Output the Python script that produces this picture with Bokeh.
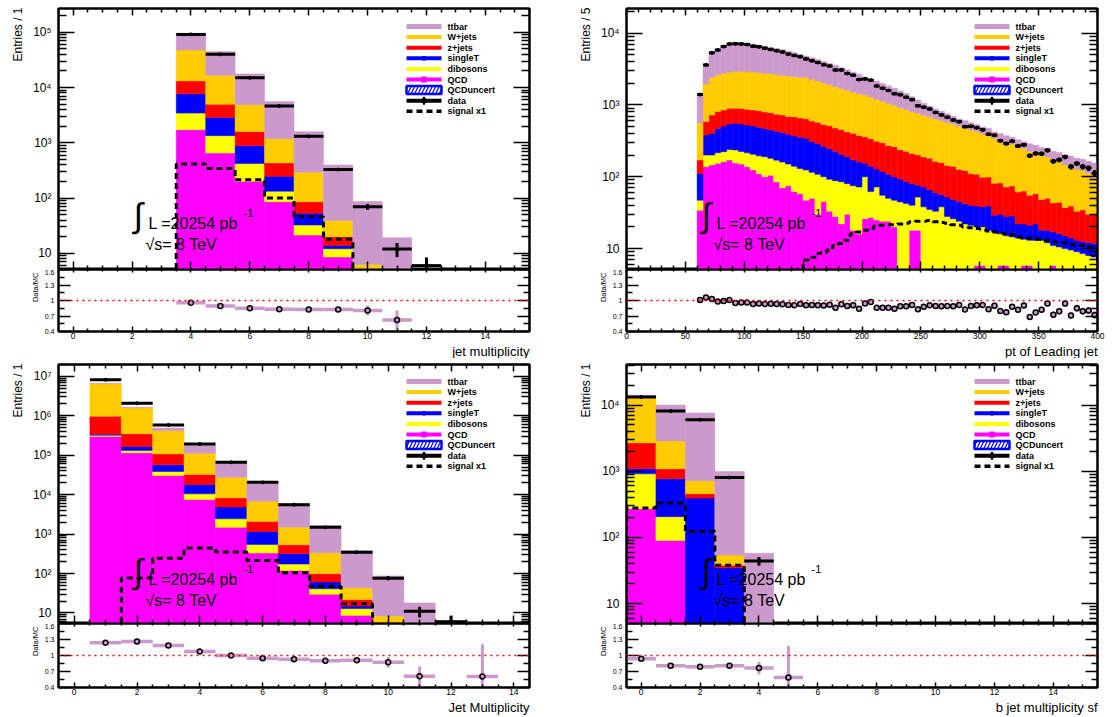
import math
import numpy as np
from bokeh.plotting import figure
from bokeh.layouts import row, column
from bokeh.models import (Range1d, FixedTicker, LogAxis, LinearAxis, Span, Title)
from bokeh.core.properties import value
from bokeh.embed import file_html
from bokeh.resources import INLINE

FONT = "Liberation Sans"
COLORS = {
    "ttbar": "#CC99CC",
    "wjets": "#FFCC00",
    "zjets": "#FF0000",
    "singleT": "#0000FF",
    "dibosons": "#FFFF00",
    "qcd": "#FF00FF",
}
STACK_ORDER = ["qcd", "dibosons", "singleT", "zjets", "wjets", "ttbar"]  # bottom -> top
FLOOR = 1e-2
SUP = str.maketrans("0123456789-", "\u2070\u00b9\u00b2\u00b3\u2074\u2075\u2076\u2077\u2078\u2079\u207b")

# ---------------- jet multiplicity (>= 4 jets) ----------------
jm4_x = [4, 5, 6, 7, 8, 9, 10, 11, 12]
jm4_qcd = [1730, 655, 202, 86, 21.4, 8.6, 1.5, 0.5, 0.2]
jm4_dib = [1720, 695, 219, 47, 11.1, 3.5, 1.0, 0.3, 0.1]
jm4_st = [4250, 1530, 468, 115, 20.9, 1.8, 0.7, 0.2, 0.1]
jm4_z = [5500, 2120, 711, 184, 32.2, 6.1, 0.8, 0.3, 0.1]
jm4_w = [34800, 11700, 3300, 758, 208, 19.4, 2.3, 0.7, 0.3]
jm4_tt = [48000, 28100, 12800, 4410, 1296, 358.6, 80.4, 17.2, 2.2]
jm4_data = [91800, 40050, 15050, 4650, 1310, 328, 70, 12, 6]
jm4_sig = [415, 342, 214, 100, 46, 18, 3.5, 1, 0.3]

# ---------------- pt of leading jet (5 GeV bins, 60-400) ----------------
pt_edges = list(range(60, 405, 5))
pt_qcd = [34, 138, 146, 154, 162, 171, 155, 150, 138, 124,
          110, 100, 105, 85, 70, 75, 62, 58, 47, 50,
          30, 45, 33, 28, 22, 30, 18, 16, 26, 27,
          25, 24, 24, 20, 0.5, 0.5, 18, 18, 0, 0,
          0, 0, 0, 0, 0, 0, 0, 5.8, 5.8, 0,
          0, 5.8, 5.8, 0, 0, 5.8, 5.8, 0, 0, 0,
          5.8, 0, 0, 0, 0, 0, 0, 0]
pt_dib = [13, 62, 54, 62, 61, 69, 81, 75, 77, 81,
          85, 90, 75, 85, 90, 75, 78, 72, 77, 65,
          78, 55, 59, 60, 63, 50, 57, 56, 74, 35,
          47, 31, 26, 27, 44, 42, 22, 34, 38, 35,
          33, 38, 28, 26, 24, 22, 21, 14.2, 14.2, 18,
          17, 10.2, 9.2, 14.5, 14, 7.7, 7.2, 13, 13, 12,
          5.2, 10.5, 10, 9.5, 9, 8.5, 8, 7.6]
pt_st = [64, 180, 200, 254, 287, 303, 319, 315, 310, 305,
         295, 280, 270, 260, 250, 240, 230, 225, 219, 195,
         182, 165, 153, 137, 120, 110, 97, 88, 54, 78,
         56, 63, 58, 53, 48.5, 43.5, 40, 24, 34, 31,
         27, 18, 24, 22, 21, 20, 19, 19, 18, 21,
         12, 14, 13, 14, 8, 8.5, 8, 9, 5, 6,
         6, 5.5, 5, 4.5, 4, 4, 4, 4.1]
pt_z = [60, 205, 324, 340, 340, 355, 345, 350, 345, 340,
        340, 325, 330, 310, 315, 300, 315, 300, 297, 285,
        285, 270, 268, 250, 248, 230, 232, 215, 206, 198,
        183, 180, 163, 162, 145, 141, 130, 126, 116, 114,
        103, 101, 91, 91, 81, 80, 70, 69, 60, 60,
        52, 52, 44, 46, 39, 41, 34, 36, 30, 32,
        26, 28, 22, 25, 20, 22, 18, 19]
pt_w = [389, 1365, 1676, 1810, 1900, 1962, 2020, 2040, 2030, 2010,
        1990, 1960, 1925, 1895, 1860, 1830, 1800, 1780, 1760, 1670,
        1580, 1480, 1390, 1320, 1240, 1175, 1100, 1060, 1020, 955,
        885, 825, 775, 725, 680, 635, 593, 560, 530, 502,
        475, 450, 425, 403, 377, 355, 338, 319, 295, 277,
        259, 240, 226, 210, 197, 184, 171, 158, 148, 140,
        127, 118, 109, 101, 93, 87, 81, 72]
pt_tt = [820, 1450, 2750, 3330, 3800, 4140, 4530, 4420, 4300, 4190,
         4030, 3840, 3600, 3460, 3270, 3070, 2870, 2610, 2400, 2260,
         2130, 2000, 1880, 1760, 1610, 1480, 1350, 1240, 1070, 990,
         930, 860, 790, 715, 640, 580, 495, 410, 340, 280,
         240, 210, 185, 150, 135, 125, 115, 105, 100, 95,
         80, 75, 75, 70, 68, 60, 62, 58, 58, 57,
         56, 55, 55, 54, 54, 53, 53, 53]
pt_data = [1394, 3604, 5305, 5831, 6485, 7070, 7078, 7056, 6912, 6557,
           6439, 6138, 5922, 5673, 5441, 5096, 4869, 4697, 4368, 4122,
           3895, 3618, 3478, 3062, 3069, 2741, 2594, 2251, 2303, 2212,
           1832, 1703, 1582, 1428, 1388, 1282, 1183, 971, 928, 874,
           783, 725, 672, 614, 582, 498, 503, 482, 450, 391,
           378, 316, 289, 312, 267, 278, 196, 211, 209, 233,
           164, 172, 189, 138, 153, 138, 132, 112]
pt_sig = [0.3, 0.5, 0.7, 0.9, 1.1, 1.3, 1.5, 1.7, 2.0, 2.2,
          2.5, 2.8, 3.1, 3.4, 3.8, 4.2, 4.6, 5.2, 6.9, 7.5,
          8.5, 8.8, 9.5, 11, 11.7, 13, 16, 17, 18, 19,
          20.5, 21, 21.5, 21.5, 22, 22.5, 23.5, 24, 24, 24.5,
          23.5, 23, 22.5, 21.5, 21, 20, 19.5, 19, 18.5, 17.5,
          17, 16.5, 16, 15.5, 14.5, 14, 14, 13.5, 13.5, 13,
          12.5, 12, 12, 11.5, 11, 11, 10.5, 10]

# ---------------- Jet Multiplicity (inclusive) ----------------
jm_x = [1, 2, 3, 4, 5, 6, 7, 8, 9, 10, 11, 12, 13]
jm_qcd = [3.0e5, 1.15e5, 3.05e4, 7500, 1500, 330, 120, 30, 8.7, 1.5, 0.3, 0, 0]
jm_dib = [2.0e4, 1.6e4, 8100, 3000, 940, 217, 54, 11, 4.2, 0.8, 0.2, 0, 0]
jm_st = [2.0e4, 3.5e4, 1.84e4, 7600, 2390, 623, 144, 20, 2.1, 1.5, 0.4, 0.1, 0.05]
jm_z = [6.3e5, 1.84e5, 5.1e4, 1.43e4, 3470, 920, 219, 38, 6.8, 2.0, 0.6, 0.2, 0.05]
jm_w = [5.58e6, 1.25e6, 3.12e5, 7.96e4, 1.94e4, 4710, 963, 237, 21.8, 2.6, 1.0, 0.3, 0.15]
jm_tt = [5.0e4, 5.0e4, 7.0e4, 6.8e4, 3.88e4, 1.48e4, 4500, 1314, 336, 78.6, 15.5, 1.9, 1.4]
jm_data = [8.18e6, 2.08e6, 5.83e5, 1.935e5, 6.65e4, 2.05e4, 5580, 1485, 346, 76, 11, 6, 1]
jm_sig = [2, 77, 245, 443, 351, 215, 105, 47, 17, 3.5, 1, 0.3, 0.1]

# ---------------- b jet multiplicity sf ----------------
bj_x = [0, 1, 2, 3, 4, 5]
bj_qcd = [272, 90, 1, 0.2, 0, 0]
bj_dib = [642, 116, 2, 0.1, 0, 0]
bj_st = [176, 563, 390, 34.4, 0.6, 0]
bj_z = [1590, 321, 64, 3.3, 0.5, 0]
bj_w = [10920, 1780, 261, 16, 1.5, 0.1]
bj_tt = [500, 7130, 6882, 936, 55, 1.6]
bj_data = [13250, 8100, 6000, 802, 44, 1]
bj_sig = [278, 331, 124, 38, 2, 0.3]

RATIO_TICKS = [0.4, 0.7, 1.0, 1.3, 1.6]
RATIO_MINOR = [0.55, 0.85, 1.15, 1.45]
RATIO_LABELS = ["0.4", "0.7", "1", "1.3", "1.6"]

LEGEND_NAMES = ["ttbar", "W+jets", "z+jets", "singleT", "dibosons", "QCD",
                "QCDuncert", "data", "signal x1"]


def unit_edges(centers):
    c = np.asarray(centers, float)
    return np.append(c - 0.5, c[-1] + 0.5)


def log_ticks(lo, hi):
    majors, minors = [], []
    for e in range(math.floor(math.log10(lo)), math.ceil(math.log10(hi)) + 1):
        if lo <= 10.0 ** e <= hi:
            majors.append(10.0 ** e)
        for k in range(2, 10):
            v = k * 10.0 ** e
            if lo <= v <= hi:
                minors.append(v)
    return majors, minors


def decade_label(v):
    e = int(round(math.log10(v)))
    return "10" if e == 1 else "10" + str(e).translate(SUP)


def style_axis(ax, major_in, minor_in, label_size=None, standoff=0):
    ax.major_tick_in = major_in
    ax.major_tick_out = 0
    ax.minor_tick_in = minor_in
    ax.minor_tick_out = 0
    ax.axis_line_color = "black"
    ax.axis_line_width = 2
    ax.major_tick_line_color = "black"
    ax.minor_tick_line_color = "black"
    ax.major_tick_line_width = 1.5
    ax.minor_tick_line_width = 1.5
    ax.major_label_standoff = standoff
    ax.major_label_text_font = FONT
    if label_size:
        ax.major_label_text_font_size = label_size
        ax.major_label_text_color = "black"
    else:
        # mirrored tick side: marks only
        ax.major_label_text_font_size = "1px"
        ax.major_label_text_alpha = 0


def side_title(text, size, align, standoff, offset=0):
    return Title(text=text, align=align, text_font=FONT, text_font_size=size,
                 text_font_style="normal", text_color="black",
                 standoff=standoff, offset=offset)


def new_fig(fw, fh, xr, yr, ylog, bl, br, bt, bb):
    p = figure(frame_width=fw, frame_height=fh, title=None,
               x_range=Range1d(*xr), y_range=Range1d(*yr),
               y_axis_type="log" if ylog else "linear",
               tools="", toolbar_location=None, output_backend="svg",
               min_border_left=bl, min_border_right=br,
               min_border_top=bt, min_border_bottom=bb,
               background_fill_color="white", border_fill_color="white")
    p.outline_line_color = "black"
    p.outline_line_width = 2
    p.xgrid.visible = False
    p.ygrid.visible = False
    return p


class FrameMap:
    """Convert pixel offsets inside a frame (from its top-left) to data coordinates."""

    def __init__(self, xr, yr, fw, fh):
        self.x0, self.x1 = xr
        self.l0, self.l1 = math.log10(yr[0]), math.log10(yr[1])
        self.fw, self.fh = fw, fh

    def x(self, px):
        return self.x0 + (self.x1 - self.x0) * px / self.fw

    def y(self, py):
        return 10 ** (self.l1 - (self.l1 - self.l0) * py / self.fh)


def draw_legend(p, fm, top):
    gx0, gx1, tx = fm.x(348), fm.x(383), fm.x(389)
    gxc = 0.5 * (gx0 + gx1)
    ys = [fm.y(top + 10.6 * i) for i in range(len(LEGEND_NAMES))]
    band = [(COLORS["ttbar"], 5), (COLORS["wjets"], 4), (COLORS["zjets"], 4),
            (COLORS["singleT"], 4), (COLORS["dibosons"], 4), (COLORS["qcd"], 4)]
    for (col, w), y in zip(band, ys[:6]):
        p.segment(gx0, y, gx1, y, line_color=col, line_width=w)
    p.scatter([gxc], [ys[3]], size=4, color=COLORS["singleT"])
    p.scatter([gxc], [ys[5]], size=5, marker="square", color=COLORS["qcd"])
    i = 6
    p.quad(left=[gx0], right=[gx1], bottom=[fm.y(top + 10.6 * i + 4)],
           top=[fm.y(top + 10.6 * i - 4)], fill_color="white",
           line_color="#0000FF", line_width=2.5, hatch_pattern="/",
           hatch_color="#0000FF", hatch_scale=7, hatch_weight=1.2)
    p.segment(gx0, ys[7], gx1, ys[7], line_color="black", line_width=4)
    p.segment(gxc, fm.y(top + 10.6 * 7 - 4), gxc, fm.y(top + 10.6 * 7 + 4),
              line_color="black", line_width=2)
    p.scatter([gxc], [ys[7]], size=5, color="black")
    p.line([gx0, gx1], [ys[8], ys[8]], line_color="black", line_width=3.5,
           line_dash="6 4")
    p.text(x=[tx] * len(ys), y=ys, text=LEGEND_NAMES, text_baseline="middle",
           text_align="left", text_font=value(FONT), text_font_size=value("9px"),
           text_font_style="bold", text_color="black")


def make_main(spec, fw, fh, bl, br, bt, leg_top):
    p = new_fig(fw, fh, spec["xr"], spec["yr"], True, bl, br, bt, 0)
    fm = FrameMap(spec["xr"], spec["yr"], fw, fh)
    edges = np.asarray(spec["edges"], float)
    left, right = edges[:-1], edges[1:]
    centers = 0.5 * (left + right)

    # stacked backgrounds
    base = np.zeros(len(left))
    for key in STACK_ORDER:
        vals = np.asarray(spec["layers"][key], float)
        top = base + vals
        m = vals > 0
        p.quad(left=left[m], right=right[m], bottom=np.maximum(base, FLOOR)[m],
               top=top[m], fill_color=COLORS[key], line_color=COLORS[key],
               line_width=0.5)
        base = top

    # signal histogram outline
    sig = np.maximum(np.asarray(spec["signal"], float), FLOOR)
    xs, ys = [left[0]], [FLOOR]
    for l, r, v in zip(left, right, sig):
        xs += [l, r]
        ys += [v, v]
    xs.append(right[-1])
    ys.append(FLOOR)
    p.line(xs, ys, line_color="black", line_width=3, line_dash="6 4")

    # data points
    d = np.asarray(spec["data"], float)
    ok = d > 0
    err = np.sqrt(d)
    p.segment(left[ok], d[ok], right[ok], d[ok], line_color="black", line_width=3)
    p.segment(centers[ok], np.maximum(d - err, FLOOR)[ok], centers[ok], (d + err)[ok],
              line_color="black", line_width=3)
    p.scatter(centers[ok], d[ok], size=3, color="black")

    # axes: ticks inside on all four sides
    majors, minors = log_ticks(*spec["yr"])
    yt = FixedTicker(ticks=majors, minor_ticks=minors)
    yl = p.yaxis[0]
    yl.ticker = yt
    yl.major_label_overrides = {m: decade_label(m) for m in majors}
    style_axis(yl, 16, 8, "12px", 7)
    yr_ax = LogAxis(ticker=yt)
    style_axis(yr_ax, 16, 8)
    p.add_layout(yr_ax, "right")

    xt = FixedTicker(ticks=spec["xmaj"], minor_ticks=spec["xmin"])
    xb = p.xaxis[0]
    xb.ticker = xt
    style_axis(xb, 8, 4)
    xa = LinearAxis(ticker=xt)
    style_axis(xa, 7, 4)
    p.add_layout(xa, "above")

    draw_legend(p, fm, leg_top)

    # luminosity / energy block
    p.text(x=[fm.x(80)], y=[fm.y(206)], text=["\u222b"], text_align="center",
           text_baseline="middle", text_font=value(FONT),
           text_font_size=value("34px"), text_color="black")
    p.text(x=[fm.x(90)], y=[fm.y(215)], text=["L =20254 pb"], text_align="left",
           text_baseline="alphabetic", text_font=value(FONT),
           text_font_size=value("16px"), text_color="black")
    p.text(x=[fm.x(185)], y=[fm.y(204)], text=["-1"], text_align="left",
           text_baseline="alphabetic", text_font=value(FONT),
           text_font_size=value("11px"), text_color="black")
    p.text(x=[fm.x(87)], y=[fm.y(236)], text=["\u221as= 8 TeV"], text_align="left",
           text_baseline="alphabetic", text_font=value(FONT),
           text_font_size=value("16px"), text_color="black")

    p.add_layout(side_title(spec["ytitle"], "12px", "right", 10, -1), "left")
    return p, base


def make_ratio(spec, total, fw, fh, bl, br, bb):
    p = new_fig(fw, fh, spec["xr"], (0.4, 1.6), False, bl, br, 0, bb)
    edges = np.asarray(spec["edges"], float)
    left, right = edges[:-1], edges[1:]
    centers = 0.5 * (left + right)
    d = np.asarray(spec["data"], float)
    ok = (d > 0) & (total > 0)
    safe = np.where(total > 0, total, 1.0)
    r = np.where(ok, d / safe, -1.0)
    e = np.where(ok, np.sqrt(np.abs(d)) / safe, 0.0)
    m = ok & (r >= 0.4) & (r <= 1.6)

    p.add_layout(Span(location=1.0, dimension="width", line_color="red",
                      line_dash="2 4", line_width=1.5))
    p.segment(left[m], r[m], right[m], r[m], line_color=COLORS["ttbar"], line_width=3.5)
    p.segment(centers[m], np.maximum(r - e, 0.4)[m], centers[m], np.minimum(r + e, 1.6)[m],
              line_color=COLORS["ttbar"], line_width=3)
    p.scatter(centers[m], r[m], size=5, marker="circle", fill_color=None,
              line_color="black", line_width=1.5)

    yt = FixedTicker(ticks=RATIO_TICKS, minor_ticks=RATIO_MINOR)
    yl = p.yaxis[0]
    yl.ticker = yt
    yl.major_label_overrides = dict(zip(RATIO_TICKS, RATIO_LABELS))
    style_axis(yl, 12, 6, "7px", 4)
    yr_ax = LinearAxis(ticker=yt)
    style_axis(yr_ax, 12, 6)
    p.add_layout(yr_ax, "right")

    xt = FixedTicker(ticks=spec["xmaj"], minor_ticks=spec["xmin"])
    xb = p.xaxis[0]
    xb.ticker = xt
    style_axis(xb, 5, 3, "8.5px", 1)
    xa = LinearAxis(ticker=xt)
    style_axis(xa, 3, 2)
    p.add_layout(xa, "above")

    p.add_layout(side_title("Data/MC", "7.5px", "right", 4, 3), "left")
    p.add_layout(side_title(spec["xtitle"], "13px", "right", 0), "below")
    return p


def int_minor(lo, hi, step, major_step):
    out = []
    v = lo
    while v <= hi + 1e-9:
        if abs(v / major_step - round(v / major_step)) > 1e-6:
            out.append(round(v, 6))
        v += step
    return out


panels = [
    dict(edges=unit_edges(jm4_x),
         layers=dict(qcd=jm4_qcd, dibosons=jm4_dib, singleT=jm4_st, zjets=jm4_z,
                     wjets=jm4_w, ttbar=jm4_tt),
         data=jm4_data, signal=jm4_sig, xr=(-0.5, 15.5), yr=(5.1, 2.7e5),
         xmaj=list(range(0, 15, 2)), xmin=int_minor(-0.5, 15.5, 0.5, 2),
         ytitle="Entries / 1", xtitle="jet multiplicity"),
    dict(edges=pt_edges,
         layers=dict(qcd=pt_qcd, dibosons=pt_dib, singleT=pt_st, zjets=pt_z,
                     wjets=pt_w, ttbar=pt_tt),
         data=pt_data, signal=pt_sig, xr=(0, 400), yr=(5.1, 2.2e4),
         xmaj=list(range(0, 401, 50)), xmin=int_minor(0, 400, 10, 50),
         ytitle="Entries / 5", xtitle="pt of Leading jet"),
    dict(edges=unit_edges(jm_x),
         layers=dict(qcd=jm_qcd, dibosons=jm_dib, singleT=jm_st, zjets=jm_z,
                     wjets=jm_w, ttbar=jm_tt),
         data=jm_data, signal=jm_sig, xr=(-0.5, 14.5), yr=(5.4, 2.0e7),
         xmaj=list(range(0, 15, 2)), xmin=int_minor(-0.5, 14.5, 0.5, 2),
         ytitle="Entries / 1", xtitle="Jet Multiplicity"),
    dict(edges=unit_edges(bj_x),
         layers=dict(qcd=bj_qcd, dibosons=bj_dib, singleT=bj_st, zjets=bj_z,
                     wjets=bj_w, ttbar=bj_tt),
         data=bj_data, signal=bj_sig, xr=(-0.5, 15.5), yr=(5.0, 4.1e4),
         xmaj=list(range(0, 15, 2)), xmin=int_minor(-0.5, 15.5, 0.5, 2),
         ytitle="Entries / 1", xtitle="b jet multiplicity sf"),
]

# pad geometry: (left border, right border) per column, frame heights per row
COLS = [(58, 28), (69, 17)]
ROWS = [dict(top=8, main_h=261, ratio_h=62, bottom=27, legend_top=18),
        dict(top=6, main_h=259, ratio_h=64, bottom=30, legend_top=17)]
FRAME_W = 471

cells = []
for i, spec in enumerate(panels):
    bl, br = COLS[i % 2]
    g = ROWS[i // 2]
    main, total = make_main(spec, FRAME_W, g["main_h"], bl, br, g["top"], g["legend_top"])
    ratio = make_ratio(spec, total, FRAME_W, g["ratio_h"], bl, br, g["bottom"])
    cells.append(column(main, ratio))

layout = column(row(cells[0], cells[1]), row(cells[2], cells[3]))
with open("out.html", "w") as f:
    f.write(file_html(layout, INLINE, title="stacked histograms"))
